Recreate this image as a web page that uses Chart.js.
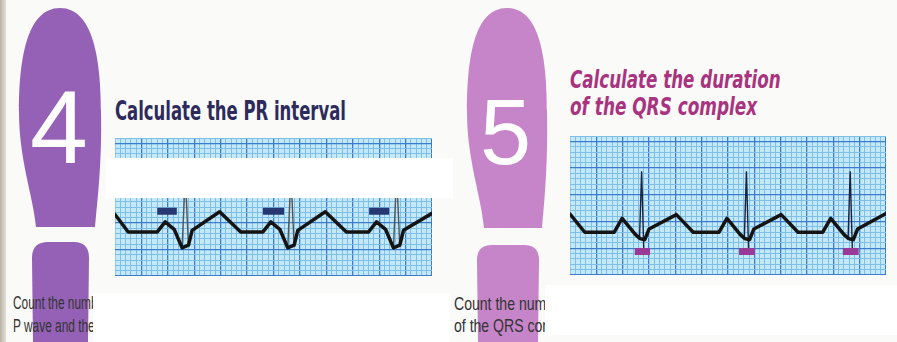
<!DOCTYPE html>
<html>
<head>
<meta charset="utf-8">
<script src="https://cdn.jsdelivr.net/npm/chart.js@4.4.0/dist/chart.umd.min.js"></script>
<style>
  html, body { margin: 0; padding: 0; }
  body { width: 897px; height: 342px; position: relative; overflow: hidden; background: #fafaf8; }
  .abs { position: absolute; }
  .fit { position: absolute; white-space: nowrap; transform-origin: 0 0; line-height: 1; }
  .num { position: absolute; color: #fff; font-family: 'Liberation Sans', Arial, sans-serif; line-height: 1; }
  .small { position: absolute; font-family: 'Liberation Sans', Arial, sans-serif; color: #333; white-space: nowrap; overflow: hidden; line-height: 1; }
  .small span { display: inline-block; transform-origin: 0 0; }
  .wb { position: absolute; background: #fff; }
</style>
</head>
<body>
<div class="abs" style="left:0;top:0;width:6px;height:342px;background:linear-gradient(90deg,#b9b3a6,#e6e2da);"></div>

<svg class="abs" style="left:0;top:0" width="897" height="342">
  <path d="M60 8 C26 8 19 62 19 112 C19 160 33 195 36 227 L95 227 C98 195 102 160 101 112 C101 62 94 8 60 8 Z" fill="#9561b6"/>
  <path d="M33 342 L32 258 Q32 242 48 242 L74 242 Q89 242 89 258 L88 342 Z" fill="#9561b6"/>
  <path d="M507 8 C473 8 467 62 467 112 C467 160 481 195 484 228 L542 228 C545 195 548 160 547 112 C547 62 541 8 507 8 Z" fill="#c685c8"/>
  <path d="M478 342 L477 260 Q477 245 492 245 L524 245 Q539 245 539 260 L538 342 Z" fill="#c685c8"/>
</svg>

<div class="num" style="left:30px;top:75px;font-size:104px;">4</div>
<div class="num" style="left:480px;top:86px;font-size:92px;">5</div>

<div class="fit" data-w="231" style="left:115px;top:98px;font-family:'DejaVu Sans Condensed','DejaVu Sans',sans-serif;font-weight:bold;font-size:26px;color:#2c2b5c;">Calculate the PR interval</div>
<div class="fit" data-w="211" style="left:570px;top:67px;font-family:'DejaVu Sans Condensed','DejaVu Sans',sans-serif;font-style:italic;font-weight:bold;font-size:25px;color:#a8337f;">Calculate the duration</div>
<div class="fit" data-w="187" style="left:570px;top:94px;font-family:'DejaVu Sans Condensed','DejaVu Sans',sans-serif;font-style:italic;font-weight:bold;font-size:25px;color:#a8337f;">of the QRS complex</div>

<div class="abs" style="left:115px;top:138px;width:317px;height:138px;"><canvas id="left" width="317" height="138"></canvas></div>
<div class="abs" style="left:570px;top:136px;width:316px;height:139px;"><canvas id="right" width="316" height="139"></canvas></div>

<div class="wb" style="left:106px;top:158px;width:347px;height:40px;"></div>
<div class="wb" style="left:93px;top:293px;width:357px;height:49px;"></div>
<div class="wb" style="left:545px;top:285px;width:352px;height:50px;"></div>

<div class="small" style="left:13px;top:294px;width:80px;height:20px;font-size:18px;"><span style="transform:scaleX(0.66)">Count the number of</span></div>
<div class="small" style="left:13px;top:317px;width:80px;height:20px;font-size:18px;"><span style="transform:scaleX(0.66)">P wave and the</span></div>
<div class="small" style="left:454px;top:294px;width:91px;height:20px;font-size:19px;"><span style="transform:scaleX(0.74)">Count the number</span></div>
<div class="small" style="left:454px;top:316px;width:91px;height:20px;font-size:19px;"><span style="transform:scaleX(0.74)">of the QRS complex</span></div>

<script>
// grid units = small squares; 60 across, 26 up
const leftTraceX = [0, 2.5, 8.0, 9.5, 11.2, 12.7, 13.9, 14.6, 19.8, 23.8, 28.0, 29.5, 31.2, 32.7, 33.9, 34.6, 39.8, 43.8, 48.0, 49.5, 51.2, 52.7, 53.9, 54.6, 60];
const leftTraceY = [11.6, 8.3, 8.3, 10.2, 8.8, 5.3, 5.8, 8.6, 12.1, 8.3, 8.3, 10.2, 8.8, 5.3, 5.8, 8.6, 12.1, 8.3, 8.3, 10.2, 8.8, 5.3, 5.8, 8.6, 11.8];
const leftSpikeX = [12.7, 13.3, 13.9, 13.9, 32.7, 33.3, 33.9, 33.9, 52.7, 53.3, 53.9];
const leftSpikeY = [5.3, 19, 5.8, null, 5.3, 19, 5.8, null, 5.3, 19, 5.8];
const leftBarX = [8.0, 11.7, 11.7, 28.0, 32.0, 32.0, 48.1, 51.9];
const leftBarY = [12.2, 12.2, null, 12.2, 12.2, null, 12.2, 12.2];

const rightTraceX = [0, 2.8, 8.4, 9.9, 12.4, 13.3, 14.2, 15.0, 20.2, 23.4, 28.3, 29.8, 32.3, 33.2, 34.1, 34.9, 40.1, 43.3, 48.0, 49.5, 52.0, 52.9, 53.8, 54.6, 60];
const rightTraceY = [11.4, 8.0, 8.0, 10.6, 7.6, 6.8, 6.6, 8.6, 11.3, 8.0, 8.0, 10.6, 7.6, 6.8, 6.6, 8.6, 11.3, 8.0, 8.0, 10.6, 7.6, 6.8, 6.6, 8.6, 11.5];
const rightSpikeX = [13.2, 13.6, 14.0, 14.0, 33.1, 33.5, 33.9, 33.9, 52.8, 53.2, 53.6];
const rightSpikeY = [6.8, 19.4, 5.0, null, 6.8, 19.4, 5.0, null, 6.8, 19.4, 5.0];
const rightBarX = [12.3, 15.2, 15.2, 32.1, 35.1, 35.1, 51.8, 54.8];
const rightBarY = [4.4, 4.4, null, 4.4, 4.4, null, 4.4, 4.4];

const MINOR = '#7cc0e8';
const MAJOR = '#3b7ccb';
const PAPER = '#c4e8f7';

const pts = (xs, ys) => xs.map((x, i) => ({ x: x, y: ys[i] }));

const paperBg = {
  id: 'paperBg',
  beforeDraw(chart) {
    const a = chart.chartArea, c = chart.ctx;
    c.save();
    c.fillStyle = PAPER;
    c.fillRect(a.left, a.top, a.right - a.left, a.bottom - a.top);
    c.restore();
  }
};

function axis(max) {
  return {
    type: 'linear', min: 0, max: max,
    ticks: { display: false, stepSize: 1, autoSkip: false, maxTicksLimit: 200 },
    border: { display: false },
    grid: {
      drawTicks: false,
      lineWidth: ctx => (ctx.tick && ctx.tick.value % 5 === 0) ? 1.3 : 1,
      color: ctx => (ctx.tick && ctx.tick.value % 5 === 0) ? MAJOR : MINOR
    }
  };
}

function ecg(id, tx, ty, sx, sy, bx, by, barColor, spikeColor) {
  new Chart(document.getElementById(id), {
    type: 'line',
    data: {
      datasets: [
        { data: pts(bx, by), borderColor: barColor, borderWidth: 7, borderCapStyle: 'butt', pointRadius: 0, spanGaps: false, order: 0 },
        { data: pts(tx, ty), borderColor: '#141414', borderWidth: 3.5, borderJoinStyle: 'round', borderCapStyle: 'round', pointRadius: 0, order: 1 },
        { data: pts(sx, sy), borderColor: spikeColor, borderWidth: 1.4, pointRadius: 0, spanGaps: false, order: 2 }
      ]
    },
    options: {
      responsive: false,
      animation: false,
      layout: { padding: 0 },
      plugins: { legend: { display: false }, tooltip: { enabled: false } },
      scales: { x: axis(60), y: axis(26) }
    },
    plugins: [paperBg]
  });
}

ecg('left', leftTraceX, leftTraceY, leftSpikeX, leftSpikeY, leftBarX, leftBarY, '#263773', '#555');
ecg('right', rightTraceX, rightTraceY, rightSpikeX, rightSpikeY, rightBarX, rightBarY, '#9a3a98', '#1c2340');

// squeeze the titles to the width they take in the picture
document.querySelectorAll('.fit').forEach(el => {
  const s = (+el.dataset.w) / el.scrollWidth;
  el.style.transform = 'scaleX(' + s + ')';
});
</script>
</body>
</html>
